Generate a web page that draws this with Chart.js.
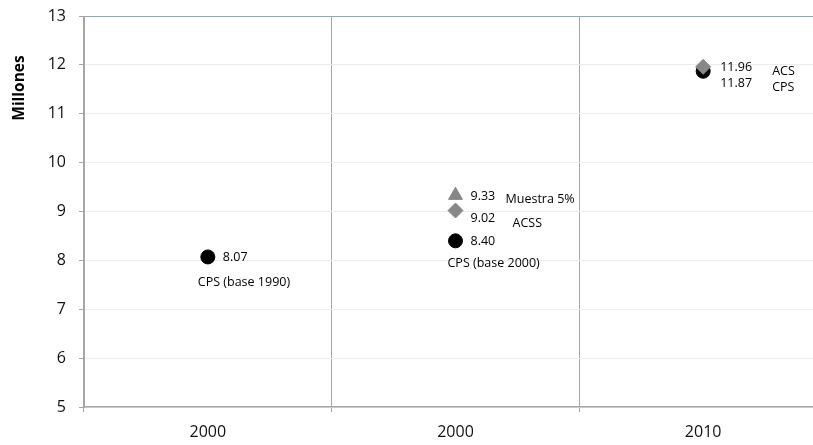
<!DOCTYPE html>
<html><head><meta charset="utf-8">
<script src="https://cdn.jsdelivr.net/npm/chart.js@4.4.1/dist/chart.umd.min.js"></script>
<style>html,body{margin:0;padding:0;overflow:hidden;background:#fff}#wrap{width:836px;height:445px;position:relative}</style>
</head><body><div id="wrap"><canvas id="c" width="836" height="445"></canvas></div>
<script>
const categories = ["2000", "2000", "2010"];
const cpsValues = [8.07, 8.40, 11.87];
const acsValues = [null, 9.02, 11.96];
const muestraValues = [null, 9.33, null];
const cpsNames = ["CPS (base 1990)", "CPS (base 2000)", "CPS"];
const acsNames = [null, "ACSS", "ACS"];
const muestraNames = [null, "Muestra 5%", null];
const yTicks = [5, 6, 7, 8, 9, 10, 11, 12, 13];
const yTitle = "Millones";

const FAMILY = '"Open Sans", "DejaVu Sans", sans-serif';
const GRID = '#a6a6a6';

// label offsets (pixels relative to the point), keyed by dataset label and index
const labelOffsets = {
  'CPS': [
    {vdx: 15, vdy: 0, ndx: -10, ndy: 25},
    {vdx: 15, vdy: 1, ndx: -8, ndy: 23},
    {vdx: 17, vdy: 12, ndx: 69, ndy: 16}
  ],
  'ACS': [
    null,
    {vdx: 15, vdy: 7.5, ndx: 57, ndy: 13},
    {vdx: 17, vdy: 1, ndx: 69, ndy: 5}
  ],
  'Muestra 5%': [
    null,
    {vdx: 15, vdy: 1.5, ndx: 50, ndy: 4.5},
    null
  ]
};

const labelPlugin = {
  id: 'pointLabels',
  afterDatasetsDraw(chart) {
    const ctx = chart.ctx;
    ctx.save();
    ctx.fillStyle = '#000';
    ctx.textAlign = 'left';
    ctx.textBaseline = 'middle';
    ctx.font = '12.5px ' + FAMILY;
    chart.data.datasets.forEach((ds, di) => {
      const meta = chart.getDatasetMeta(di);
      const offs = labelOffsets[ds.label];
      meta.data.forEach((pt, i) => {
        const v = ds.data[i];
        if (v === null || v === undefined) return;
        const o = offs[i];
        if (!o) return;
        ctx.fillText(v.toFixed(2), pt.x + o.vdx, pt.y + o.vdy);
        const name = ds.names[i];
        if (name) ctx.fillText(name, pt.x + o.ndx, pt.y + o.ndy);
      });
    });
    ctx.restore();
  }
};

const titlePlugin = {
  id: 'yTitle',
  afterDraw(chart) {
    const ctx = chart.ctx;
    ctx.save();
    ctx.translate(20, 88);
    ctx.rotate(-Math.PI / 2);
    ctx.font = 'bold 15.5px ' + FAMILY;
    ctx.fillStyle = '#000';
    ctx.textAlign = 'center';
    ctx.textBaseline = 'middle';
    ctx.fillText(yTitle, 0, 0);
    ctx.restore();
  }
};

new Chart(document.getElementById('c'), {
  type: 'line',
  data: {
    labels: categories,
    datasets: [
      {label: 'Muestra 5%', data: muestraValues, names: muestraNames, showLine: false,
       pointStyle: 'triangle', pointRadius: 8, pointHoverRadius: 8, borderWidth: 1,
       backgroundColor: '#878787', borderColor: '#878787', order: 0},
      {label: 'ACS', data: acsValues, names: acsNames, showLine: false,
       pointStyle: 'rectRot', pointRadius: 7.5, pointHoverRadius: 7.5, borderWidth: 1,
       backgroundColor: '#878787', borderColor: '#878787', order: 1},
      {label: 'CPS', data: cpsValues, names: cpsNames, showLine: false,
       pointStyle: 'circle', pointRadius: 7, pointHoverRadius: 7, borderWidth: 1,
       backgroundColor: '#000', borderColor: '#000', order: 2}
    ]
  },
  options: {
    responsive: false,
    animation: false,
    layout: {padding: {top: 16, right: 5, bottom: 0, left: 0}},
    plugins: {legend: {display: false}, tooltip: {enabled: false}},
    scales: {
      x: {
        type: 'category',
        offset: true,
        grid: {offset: true, color: GRID, tickColor: GRID, tickLength: 5, lineWidth: 1},
        border: {color: GRID, width: 1.5},
        ticks: {color: '#111', font: {family: FAMILY, size: 16}, padding: 11, maxRotation: 0},
        afterFit(s) { s.height = 38; s.paddingLeft = 0; s.paddingRight = 0; }
      },
      y: {
        min: 5, max: 13,
        afterBuildTicks(s) { s.ticks = yTicks.map(v => ({value: v})); },
        grid: {
          color: c => c.tick && c.tick.value === 13 ? '#7fa9dc' : '#ececec',
          lineWidth: 1,
          tickColor: GRID, tickLength: 5
        },
        border: {color: GRID, width: 1},
        ticks: {color: '#111', font: {family: FAMILY, size: 16}, padding: 13},
        afterFit(s) { s.width = 84; s.paddingTop = 0; s.paddingBottom = 0; }
      }
    }
  },
  plugins: [labelPlugin, titlePlugin]
});
</script>
</body></html>
